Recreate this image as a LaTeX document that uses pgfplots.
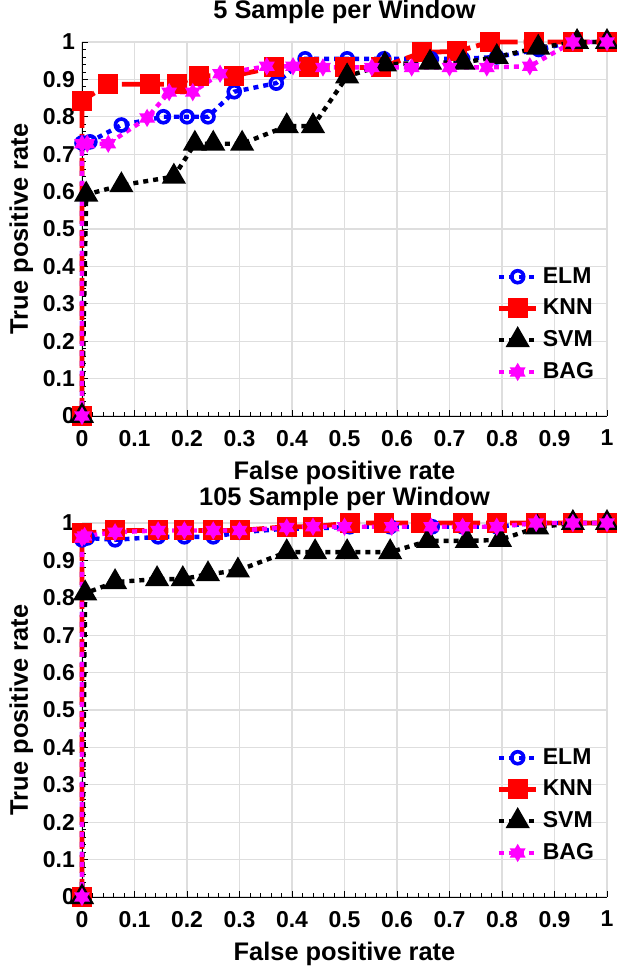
\documentclass[border=0pt]{standalone}
\usepackage{fontspec}
\setmainfont{Liberation Sans}
\usepackage{pgfplots}
\pgfplotsset{compat=1.18}
\definecolor{gridgray}{RGB}{222,222,222}
\definecolor{mag}{RGB}{255,0,255}
\definecolor{blu}{RGB}{0,0,255}
\definecolor{rd}{RGB}{255,0,0}
\pgfdeclareplotmark{hexstar}{%
  \pgfpathmoveto{\pgfqpointpolar{90}{\pgfplotmarksize}}%
  \pgfpathlineto{\pgfqpointpolar{210}{\pgfplotmarksize}}%
  \pgfpathlineto{\pgfqpointpolar{330}{\pgfplotmarksize}}%
  \pgfpathclose
  \pgfpathmoveto{\pgfqpointpolar{270}{\pgfplotmarksize}}%
  \pgfpathlineto{\pgfqpointpolar{30}{\pgfplotmarksize}}%
  \pgfpathlineto{\pgfqpointpolar{150}{\pgfplotmarksize}}%
  \pgfpathclose
  \pgfusepathqfill}
\pgfplotsset{
  rocaxis/.style={
    scale only axis, width=262.5pt, height=187pt,
    xmin=0, xmax=1, ymin=0, ymax=1,
    xtick={0,0.1,0.2,0.3,0.4,0.5,0.6,0.7,0.8,0.9,1},
    ytick={0,0.1,0.2,0.3,0.4,0.5,0.6,0.7,0.8,0.9,1},
    minor x tick num=4, minor y tick num=4,
    axis x line*=bottom, axis y line*=left, axis line style={-, black},
    grid=major, major grid style={gridgray, line width=0.6pt},
    tick align=inside, major tick length=3pt, minor tick length=1.8pt,
    tick style={black, line width=0.4pt},
    /pgf/number format/assume math mode=true,
    ticklabel style={font=\fontsize{11.5}{13}\selectfont\bfseries},
    xticklabel style={yshift=-3.5pt},
    label style={font=\fontsize{12.7}{14}\selectfont\bfseries},
    title style={font=\fontsize{12.7}{14}\selectfont\bfseries, at={(0.5,1)}, anchor=south, yshift=-0.5pt},
    xlabel={False positive rate}, ylabel={True positive rate},
    xlabel style={yshift=-0.5pt}, ylabel style={yshift=-2pt},
    legend style={draw=none, fill=none, font=\fontsize{11.5}{13}\selectfont\bfseries,
      anchor=north east, row sep=2.4pt, cells={anchor=west}},
    legend cell align=left,
    legend image code/.code={\draw[mark repeat=2,mark phase=2] plot coordinates {(0cm,0cm)(0.33cm,0cm)(0.66cm,0cm)};},
    clip=false,
  },
  elm/.style={blu, line width=2.2pt, dash pattern=on 2.5pt off 2.5pt, mark=o, mark size=3pt,
    mark options={solid, line width=1.8pt, fill=white}},
  knn/.style={rd, line width=2.4pt, dash pattern=on 9pt off 3pt, mark=square*, mark size=3.8pt,
    mark options={solid, fill=rd}},
  svm/.style={black, line width=2.2pt, dash pattern=on 2.5pt off 2.5pt, mark=triangle*, mark size=4.8pt,
    mark options={solid, fill=black}},
  bag/.style={mag, line width=2.2pt, dash pattern=on 2.5pt off 2.5pt, mark=hexstar, mark size=4.6pt,
    mark options={solid, fill=mag}},
}
\begin{document}
\begin{tikzpicture}
\begin{axis}[rocaxis, at={(0,240.5pt)}, anchor=south west,
  title={5 Sample per Window},
  legend style={at={(0.995,0.42)}}]
\addplot[elm] coordinates {(0,0)(0,0.73)(0.015,0.733)(0.075,0.778)(0.155,0.80)(0.2,0.80)(0.24,0.80)(0.29,0.867)(0.37,0.89)(0.425,0.955)(0.505,0.955)(0.575,0.955)(0.665,0.955)(0.725,0.955)(0.79,0.96)(0.87,0.98)(0.935,1)(1,1)};
\addlegendentry{ELM}
\addplot[knn] coordinates {(0,0)(0,0.843)(0.05,0.887)(0.13,0.887)(0.18,0.887)(0.222,0.91)(0.29,0.91)(0.365,0.932)(0.432,0.932)(0.5,0.932)(0.57,0.932)(0.648,0.972)(0.715,0.975)(0.778,1)(0.86,1)(0.935,1)(1,1)};
\addlegendentry{KNN}
\addplot[svm] coordinates {(0,0)(0.008,0.592)(0.075,0.617)(0.175,0.64)(0.215,0.728)(0.25,0.728)(0.305,0.728)(0.39,0.775)(0.44,0.775)(0.505,0.908)(0.577,0.94)(0.663,0.945)(0.726,0.945)(0.79,0.96)(0.869,0.985)(0.943,1)(1,1)};
\addlegendentry{SVM}
\addplot[bag] coordinates {(0,0)(0,0.728)(0.01,0.728)(0.05,0.728)(0.124,0.797)(0.166,0.866)(0.211,0.866)(0.263,0.915)(0.352,0.935)(0.402,0.935)(0.459,0.932)(0.552,0.932)(0.628,0.932)(0.70,0.932)(0.771,0.932)(0.853,0.935)(0.935,1)(1,1)};
\addlegendentry{BAG}
\end{axis}
\begin{axis}[rocaxis, at={(0,0)}, anchor=south west,
  title={105 Sample per Window}, title style={yshift=-3pt},
  legend style={at={(0.995,0.42)}}]
\addplot[elm] coordinates {(0,0)(0,0.955)(0.01,0.96)(0.063,0.955)(0.145,0.963)(0.195,0.963)(0.25,0.963)(0.30,0.975)(0.39,0.985)(0.44,0.985)(0.51,0.99)(0.587,0.99)(0.667,0.99)(0.725,0.99)(0.79,0.99)(0.865,1)(0.935,1)(1,1)};
\addlegendentry{ELM}
\addplot[knn] coordinates {(0,0)(0,0.972)(0.063,0.98)(0.145,0.98)(0.195,0.98)(0.25,0.98)(0.30,0.98)(0.39,0.99)(0.44,0.99)(0.51,1)(0.575,1)(0.645,1)(0.725,1)(0.79,1)(0.865,1)(0.935,1)(1,1)};
\addlegendentry{KNN}
\addplot[svm] coordinates {(0,0)(0.006,0.812)(0.063,0.842)(0.143,0.85)(0.192,0.85)(0.24,0.863)(0.297,0.873)(0.39,0.922)(0.444,0.922)(0.505,0.922)(0.587,0.922)(0.659,0.952)(0.733,0.952)(0.796,0.955)(0.867,0.988)(0.935,1)(1,1)};
\addlegendentry{SVM}
\addplot[bag] coordinates {(0,0)(0,0.96)(0.005,0.965)(0.063,0.975)(0.145,0.98)(0.195,0.98)(0.25,0.98)(0.30,0.98)(0.39,0.988)(0.44,0.99)(0.5,0.99)(0.59,0.99)(0.665,0.99)(0.725,0.99)(0.79,0.99)(0.865,1)(0.935,1)(1,1)};
\addlegendentry{BAG}
\end{axis}
\pgfresetboundingbox
\path (-41pt,-38.5pt) rectangle (267pt,448.5pt);
\end{tikzpicture}
\end{document}
